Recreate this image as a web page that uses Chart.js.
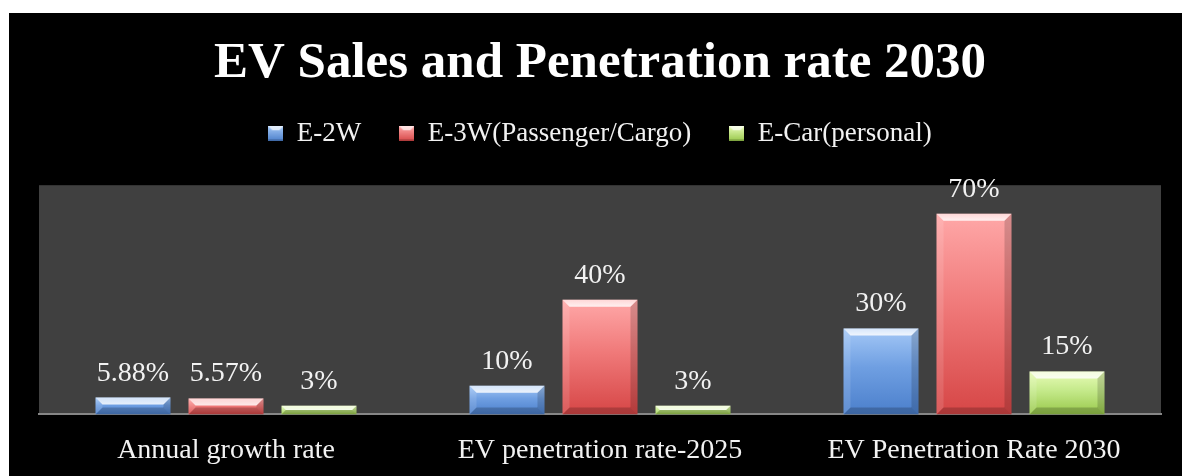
<!DOCTYPE html>
<html>
<head>
<meta charset="utf-8">
<script src="https://cdn.jsdelivr.net/npm/chart.js@4/dist/chart.umd.min.js"></script>
<style>
  body { margin: 0; background: #fff; overflow: hidden; }
  #wrap { position: absolute; left: 9px; top: 13px; width: 1173px; height: 483px; background: #000; }
</style>
</head>
<body>
<div id="wrap"><canvas id="evChart"></canvas></div>
<script>
const categories = ["Annual growth rate", "EV penetration rate-2025", "EV Penetration Rate 2030"];
const seriesNames = ["E-2W", "E-3W(Passenger/Cargo)", "E-Car(personal)"];
const e2w = [5.88, 10, 30];
const e3w = [5.57, 40, 70];
const ecar = [3, 3, 15];

// top / bottom shades for each series
const shades = [
  { top: "#a4c8f6", mid: "#6f9fe2", bottom: "#4b7fcb" },
  { top: "#ffa8a8", mid: "#f07a7a", bottom: "#d64646" },
  { top: "#e8fcb8", mid: "#c4e98a", bottom: "#98c84a" },
];

const serif = "'Liberation Serif', 'DejaVu Serif', serif";

function legendSquare(shade) {
  const c = document.createElement("canvas");
  c.width = 15;
  c.height = 15;
  const g = c.getContext("2d");
  const grad = g.createLinearGradient(0, 0, 0, 15);
  grad.addColorStop(0, shade.top);
  grad.addColorStop(1, shade.bottom);
  g.fillStyle = grad;
  g.fillRect(0, 0, 15, 15);
  g.fillStyle = "rgba(255,255,255,0.7)";
  g.beginPath();
  g.moveTo(0, 0); g.lineTo(15, 0); g.lineTo(11, 4); g.lineTo(4, 4);
  g.closePath();
  g.fill();
  g.fillStyle = "rgba(0,0,0,0.18)";
  g.fillRect(0, 13, 15, 2);
  return c;
}

function barFill(i) {
  return (ctx) => {
    const chart = ctx.chart;
    if (!chart.chartArea || ctx.raw == null) return shades[i].mid;
    const y = chart.scales.y;
    const top = y.getPixelForValue(ctx.raw);
    const base = y.getPixelForValue(0);
    if (!isFinite(top) || base - top < 1) return shades[i].mid;
    const grad = chart.ctx.createLinearGradient(0, top, 0, base);
    grad.addColorStop(0, shades[i].top);
    grad.addColorStop(0.45, shades[i].mid);
    grad.addColorStop(1, shades[i].bottom);
    return grad;
  };
}

// extra room under the legend
const legendGap = {
  id: "legendGap",
  beforeInit(chart) {
    if (!chart.legend) return;
    const fit = chart.legend.fit;
    chart.legend.fit = function () {
      fit.bind(chart.legend)();
      this.height += 28;
    };
  },
};

const plotBg = {
  id: "plotBg",
  beforeDraw(chart) {
    const { ctx, chartArea } = chart;
    ctx.save();
    ctx.fillStyle = "#404040";
    ctx.fillRect(chartArea.left, chartArea.top, chartArea.right - chartArea.left, chartArea.bottom - chartArea.top);
    ctx.restore();
  },
};

// bevel edges + value labels on each bar
const bevelAndLabels = {
  id: "bevelAndLabels",
  afterDatasetsDraw(chart) {
    const ctx = chart.ctx;
    ctx.save();
    chart.data.datasets.forEach((ds, di) => {
      const meta = chart.getDatasetMeta(di);
      meta.data.forEach((bar, j) => {
        const p = bar.getProps(["x", "y", "base", "width"], true);
        const l = p.x - p.width / 2, r = p.x + p.width / 2;
        const t = p.y, b = p.base;
        const h = b - t;
        const bv = Math.min(7, h / 2);
        // top
        let g = ctx.createLinearGradient(0, t, 0, t + bv);
        g.addColorStop(0, "rgba(255,255,255,0.55)");
        g.addColorStop(1, "rgba(255,255,255,0.85)");
        ctx.fillStyle = g;
        ctx.beginPath();
        ctx.moveTo(l, t); ctx.lineTo(r, t); ctx.lineTo(r - bv, t + bv); ctx.lineTo(l + bv, t + bv);
        ctx.closePath(); ctx.fill();
        // left
        ctx.fillStyle = "rgba(255,255,255,0.12)";
        ctx.beginPath();
        ctx.moveTo(l, t); ctx.lineTo(l + bv, t + bv); ctx.lineTo(l + bv, b - bv); ctx.lineTo(l, b);
        ctx.closePath(); ctx.fill();
        // right
        ctx.fillStyle = "rgba(0,0,0,0.16)";
        ctx.beginPath();
        ctx.moveTo(r, t); ctx.lineTo(r - bv, t + bv); ctx.lineTo(r - bv, b - bv); ctx.lineTo(r, b);
        ctx.closePath(); ctx.fill();
        // bottom
        ctx.fillStyle = "rgba(0,0,0,0.2)";
        ctx.beginPath();
        ctx.moveTo(l, b); ctx.lineTo(l + bv, b - bv); ctx.lineTo(r - bv, b - bv); ctx.lineTo(r, b);
        ctx.closePath(); ctx.fill();

        ctx.fillStyle = "#f2f2f2";
        ctx.font = "28px " + serif;
        ctx.textAlign = "center";
        ctx.textBaseline = "alphabetic";
        ctx.fillText(ds.data[j] + "%", p.x, t - 17);
      });
    });
    ctx.restore();
  },
};

const squares = shades.map(legendSquare);

new Chart(document.getElementById("evChart"), {
  type: "bar",
  data: {
    labels: categories,
    datasets: [
      { label: seriesNames[0], data: e2w, backgroundColor: barFill(0) },
      { label: seriesNames[1], data: e3w, backgroundColor: barFill(1) },
      { label: seriesNames[2], data: ecar, backgroundColor: barFill(2) },
    ],
  },
  options: {
    responsive: true,
    maintainAspectRatio: false,
    animation: false,
    datasets: {
      bar: { categoryPercentage: 0.746, barPercentage: 0.806 },
    },
    layout: { padding: { left: 30, right: 21, top: 0, bottom: 10 } },
    scales: {
      x: {
        grid: { display: false, drawTicks: false },
        border: { display: true, color: "#868686", width: 2 },
        ticks: { color: "#f2f2f2", font: { family: serif, size: 28 }, padding: 19 },
      },
      y: { display: false, min: 0, max: 80 },
    },
    plugins: {
      title: {
        display: true,
        text: "EV Sales and Penetration rate 2030",
        color: "#ffffff",
        font: { family: serif, size: 51, weight: "bold", lineHeight: 1.2 },
        padding: { top: 20, bottom: -12 },
      },
      legend: {
        position: "top",
        labels: {
          color: "#f2f2f2",
          font: { family: serif, size: 27 },
          usePointStyle: true,
          pointStyleWidth: 15,
          boxHeight: 15,
          padding: 38,
          generateLabels(chart) {
            return Chart.defaults.plugins.legend.labels.generateLabels(chart).map((item, i) => {
              item.pointStyle = squares[i];
              return item;
            });
          },
        },
      },
      tooltip: { enabled: false },
    },
  },
  plugins: [legendGap, plotBg, bevelAndLabels],
});
</script>
</body>
</html>
